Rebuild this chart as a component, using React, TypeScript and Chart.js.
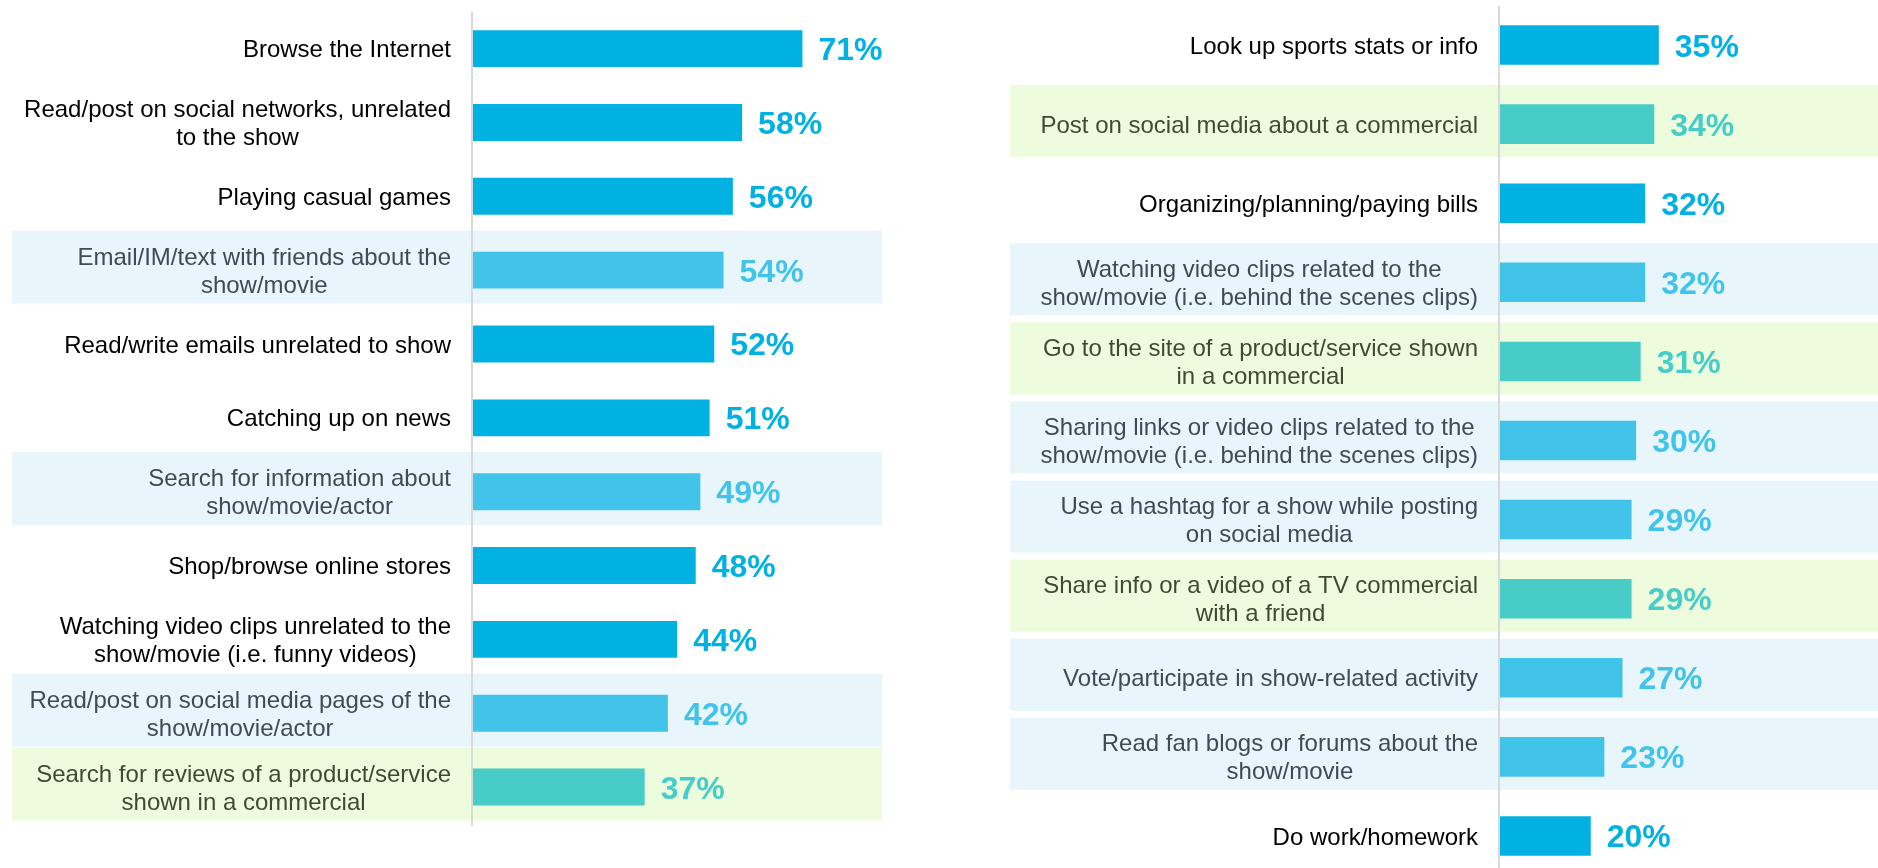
import React, { useEffect, useRef } from "react";
import { Chart, registerables } from "chart.js";

Chart.register(...registerables);

// ---------- DATA ----------
const leftLabels: string[][] = [
  ["Browse the Internet"],
  ["Read/post on social networks, unrelated", "to the show"],
  ["Playing casual games"],
  ["Email/IM/text with friends about the", "show/movie"],
  ["Read/write emails unrelated to show"],
  ["Catching up on news"],
  ["Search for information about", "show/movie/actor"],
  ["Shop/browse online stores"],
  ["Watching video clips unrelated to the", "show/movie (i.e. funny videos)"],
  ["Read/post on social media pages of the", "show/movie/actor"],
  ["Search for reviews of a product/service", "shown in a commercial"],
];
const leftValues: number[] = [71, 58, 56, 54, 52, 51, 49, 48, 44, 42, 37];
const leftKinds: string[] = ["n", "n", "n", "b", "n", "n", "b", "n", "n", "b", "g"];

const rightLabels: string[][] = [
  ["Look up sports stats or info"],
  ["Post on social media about a commercial"],
  ["Organizing/planning/paying bills"],
  ["Watching video clips related to the", "show/movie (i.e. behind the scenes clips)"],
  ["Go to the site of a product/service shown", "in a commercial"],
  ["Sharing links or video clips related to the", "show/movie (i.e. behind the scenes clips)"],
  ["Use a hashtag for a show while posting", "on social media"],
  ["Share info or a video of a TV commercial", "with a friend"],
  ["Vote/participate in show-related activity"],
  ["Read fan blogs or forums about the", "show/movie"],
  ["Do work/homework"],
];
const rightValues: number[] = [35, 34, 32, 32, 31, 30, 29, 29, 27, 23, 20];
const rightKinds: string[] = ["n", "g", "n", "b", "g", "b", "b", "g", "b", "b", "n"];

// ---------- STYLE ----------
const KIND_STYLE: Record<string, { bar: string; text: string; bg: string | null }> = {
  n: { bar: "#00B1E1", text: "#000000", bg: null },
  b: { bar: "#42C4EA", text: "#404A54", bg: "#E8F6FC" },
  g: { bar: "#48CCC8", text: "#3E4B30", bg: "#ECFCDC" },
};

const FONT = "'Liberation Sans', Arial, Helvetica, sans-serif";

type PanelCfg = {
  labels: string[][];
  values: number[];
  kinds: string[];
  width: number;
  height: number;
  padding: { left: number; right: number; top: number; bottom: number };
  xMax: number;
  bgLeft: number;
  bgRight: number;
  bgHeight: number;
  bgShift: number;
  axisTop: number;
  axisBottom: number;
};

function buildChart(canvas: HTMLCanvasElement, cfg: PanelCfg) {
  const panelPlugin = {
    id: "panelDecor",
    beforeDatasetsDraw(chart: any) {
      const { ctx, chartArea } = chart;
      const meta = chart.getDatasetMeta(0);
      ctx.save();
      cfg.kinds.forEach((k, i) => {
        const st = KIND_STYLE[k];
        if (!st.bg) return;
        const cy = meta.data[i].y + cfg.bgShift;
        ctx.fillStyle = st.bg;
        ctx.fillRect(cfg.bgLeft, cy - cfg.bgHeight / 2, cfg.bgRight - cfg.bgLeft, cfg.bgHeight);
      });
      ctx.strokeStyle = "#D9D9D9";
      ctx.lineWidth = 2;
      ctx.beginPath();
      ctx.moveTo(chartArea.left - 1, cfg.axisTop);
      ctx.lineTo(chartArea.left - 1, cfg.axisBottom);
      ctx.stroke();
      ctx.restore();
    },
    afterDatasetsDraw(chart: any) {
      const { ctx, chartArea } = chart;
      const meta = chart.getDatasetMeta(0);
      ctx.save();
      // category labels
      const labelSize = 24;
      const lineH = 28;
      ctx.font = `${labelSize}px ${FONT}`;
      ctx.textBaseline = "alphabetic";
      ctx.textAlign = "center";
      const rightEdge = chartArea.left - 22;
      cfg.labels.forEach((lines, i) => {
        const st = KIND_STYLE[cfg.kinds[i]];
        const cy = meta.data[i].y;
        const w = Math.max(...lines.map((l) => ctx.measureText(l).width));
        const cx = rightEdge - w / 2;
        ctx.fillStyle = st.text;
        const n = lines.length;
        lines.forEach((l, j) => {
          const lineCenter = cy + (j - (n - 1) / 2) * lineH;
          ctx.fillText(l, cx, lineCenter + labelSize * 0.358);
        });
      });
      // value labels
      const valSize = 32;
      ctx.font = `bold ${valSize}px ${FONT}`;
      ctx.textAlign = "left";
      cfg.values.forEach((v, i) => {
        const st = KIND_STYLE[cfg.kinds[i]];
        const el = meta.data[i];
        ctx.fillStyle = st.bar;
        ctx.fillText(`${v}%`, el.x + 16, el.y + valSize * 0.358);
      });
      ctx.restore();
    },
  };

  return new Chart(canvas, {
    type: "bar",
    data: {
      labels: cfg.labels.map((l) => l.join(" ")),
      datasets: [
        {
          data: cfg.values,
          backgroundColor: cfg.kinds.map((k) => KIND_STYLE[k].bar),
          borderWidth: 0,
          barPercentage: 0.5,
          categoryPercentage: 1,
        },
      ],
    },
    options: {
      indexAxis: "y",
      responsive: false,
      animation: false,
      maintainAspectRatio: false,
      layout: { padding: cfg.padding },
      scales: {
        x: { display: false, min: 0, max: cfg.xMax },
        y: { display: false },
      },
      plugins: {
        legend: { display: false },
        tooltip: { enabled: false },
      },
    },
    plugins: [panelPlugin],
  });
}

function Panel({ cfg, left }: { cfg: PanelCfg; left: number }) {
  const ref = useRef<HTMLCanvasElement | null>(null);
  useEffect(() => {
    if (!ref.current) return;
    const chart = buildChart(ref.current, cfg);
    return () => chart.destroy();
  }, []);
  return (
    <canvas
      ref={ref}
      width={cfg.width}
      height={cfg.height}
      style={{ position: "absolute", left, top: 0, width: cfg.width, height: cfg.height }}
    />
  );
}

const leftCfg: PanelCfg = {
  labels: leftLabels,
  values: leftValues,
  kinds: leftKinds,
  width: 939,
  height: 868,
  padding: { left: 473, right: 2, top: 11.7, bottom: 44 },
  xMax: 100,
  bgLeft: 12,
  bgRight: 882,
  bgHeight: 73,
  bgShift: -3,
  axisTop: 12,
  axisBottom: 826,
};

const rightCfg: PanelCfg = {
  labels: rightLabels,
  values: rightValues,
  kinds: rightKinds,
  width: 939,
  height: 880,
  padding: { left: 561, right: 15, top: 5.5, bottom: 4.5 },
  xMax: 80,
  bgLeft: 71,
  bgRight: 939,
  bgHeight: 72,
  bgShift: -3,
  axisTop: 6,
  axisBottom: 880,
};

export default function App() {
  return (
    <div
      style={{
        position: "fixed",
        left: 0,
        top: 0,
        width: 1878,
        height: 868,
        overflow: "hidden",
        background: "#FFFFFF",
      }}
    >
      <Panel cfg={leftCfg} left={0} />
      <Panel cfg={rightCfg} left={939} />
    </div>
  );
}
